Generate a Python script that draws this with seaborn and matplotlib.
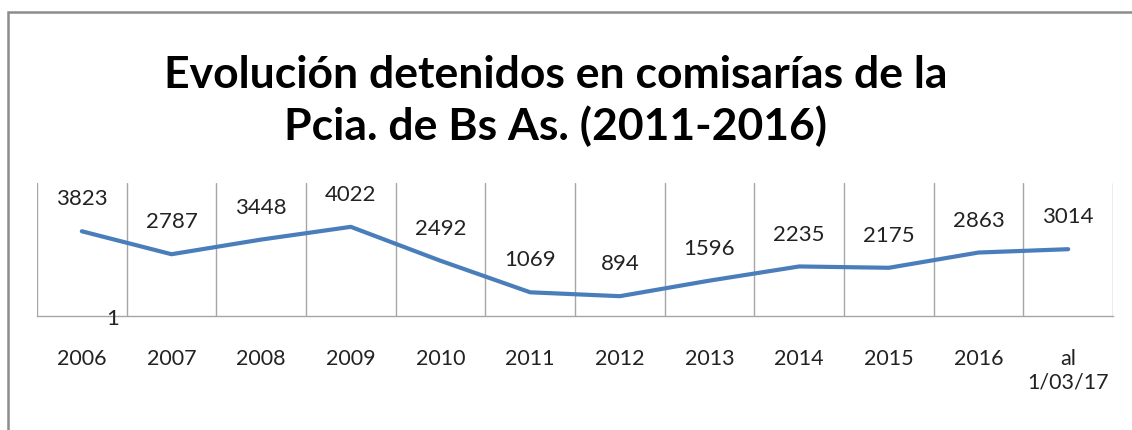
import matplotlib
matplotlib.use("Agg")
import matplotlib.pyplot as plt
import seaborn as sns
import pandas as pd
from matplotlib.patches import Rectangle

# Data
periods = ["2006", "2007", "2008", "2009", "2010", "2011", "2012",
           "2013", "2014", "2015", "2016", "al\n1/03/17"]
detenidos = [3823, 2787, 3448, 4022, 2492, 1069, 894, 1596, 2235, 2175, 2863, 3014]

df = pd.DataFrame({"Periodo": periods, "Detenidos": detenidos})

sns.set_style("white")
plt.rcParams["font.family"] = ["Lato", "DejaVu Sans"]

fig = plt.figure(figsize=(11.32, 4.30), dpi=100)
ax = fig.add_axes([37 / 1132, 1 - 316 / 430, (1113 - 37) / 1132, (316 - 183) / 430])

line_color = "#4A7EBB"
grid_color = "#A6A6A6"
text_color = "#222222"

sns.lineplot(data=df, x="Periodo", y="Detenidos", sort=False, color=line_color,
             linewidth=3, ax=ax)

ax.set_xlim(-0.5, len(periods) - 0.5)
ax.set_ylim(0, 6000)

# vertical gridlines between categories
for i in range(len(periods) + 1):
    ax.axvline(i - 0.5, color=grid_color, linewidth=1, zorder=0)

for s in ["top", "right", "left"]:
    ax.spines[s].set_visible(False)
ax.spines["bottom"].set_color(grid_color)
ax.spines["bottom"].set_linewidth(1)

ax.set_yticks([])
ax.tick_params(axis="x", length=0, pad=24, labelsize=15.5, labelcolor=text_color)
ax.set_xlabel("")
ax.set_ylabel("")

# data labels above points
for i, v in enumerate(detenidos):
    ax.annotate(str(v), (i, v), textcoords="offset points", xytext=(0, 23),
                ha="center", va="center", fontsize=16, color=text_color)

# odd axis label from the original
ax.text(0.0706, -0.02, "1", transform=ax.transAxes, ha="center", va="center",
        fontsize=16, color=text_color)

fig.text(0.491, 1 - 101 / 430, "Evolución detenidos en comisarías de la\nPcia. de Bs As. (2011-2016)",
         ha="center", va="center", fontsize=32, fontweight="bold", linespacing=1.32,
         color="black")

# chart frame
fig.patches.append(Rectangle((8 / 1132, -0.1), 1.2, 1 - 12 / 430 + 0.1,
                             transform=fig.transFigure, fill=False,
                             edgecolor="#8C8C8C", linewidth=1.8))

fig.savefig("out.png", dpi=100)
